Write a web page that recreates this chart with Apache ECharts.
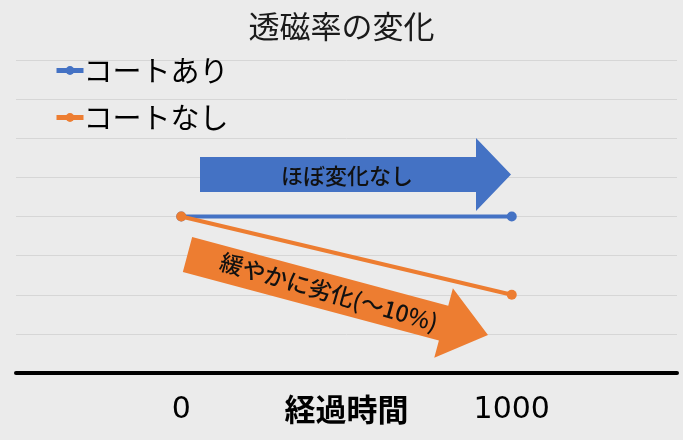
<!DOCTYPE html>
<html><head><meta charset="utf-8">
<script src="https://cdn.jsdelivr.net/npm/echarts@6/dist/echarts.min.js"></script>
<style>html,body{margin:0;padding:0;background:#ebebeb}#c{width:683px;height:440px}</style>
</head><body><div id="c"></div>
<script>
const categories = ['0', '1000'];
const coatOn = [100, 100];
const coatOff = [100, 90];
const seriesNames = ['コートあり', 'コートなし'];
const titleText = '透磁率の変化';
const xName = '経過時間';
const noteBlue = 'ほぼ変化なし';
const noteOrange = '緩やかに劣化(～10%)';

const FONT = '"Noto Sans CJK JP", "Noto Sans", sans-serif';
const NUMFONT = '"DejaVu Sans", "Noto Sans", sans-serif';
const chart = echarts.init(document.getElementById('c'));

function arrow(x0, y0, x1, y1, bodyW, headW, headL) {
  const dx = x1 - x0, dy = y1 - y0, L = Math.hypot(dx, dy);
  const ux = dx / L, uy = dy / L, nx = -uy, ny = ux;
  const bx = x1 - ux * headL, by = y1 - uy * headL;
  const p = (x, y, n) => [x + nx * n, y + ny * n];
  return [p(x0, y0, -bodyW / 2), p(bx, by, -bodyW / 2), p(bx, by, -headW / 2), [x1, y1],
          p(bx, by, headW / 2), p(bx, by, bodyW / 2), p(x0, y0, bodyW / 2)];
}

chart.setOption({
  backgroundColor: '#ebebeb',
  title: { text: titleText, left: 'center', top: 6,
    textStyle: { fontFamily: FONT, fontSize: 31, fontWeight: 'normal', color: '#1a1a1a' } },
  legend: { orient: 'vertical', left: 49, top: 51, itemGap: 18, itemWidth: 27, itemHeight: 11,
    lineStyle: { width: 5 },
    textStyle: { fontFamily: FONT, fontSize: 29, color: '#000', padding: [0, 0, 0, -5] } },
  grid: { left: 16, right: 6, top: 60, bottom: 67, outerBoundsMode: 'none', containLabel: false },
  xAxis: { type: 'category', data: categories, boundaryGap: true,
    name: xName, nameLocation: 'middle', nameGap: 21, nameMoveOverlap: false,
    nameTextStyle: { fontFamily: FONT, fontSize: 31, fontWeight: 'bold', color: '#000' },
    axisLine: { lineStyle: { color: '#000', width: 4 } },
    axisTick: { show: false },
    axisLabel: { fontFamily: NUMFONT, fontSize: 30, color: '#000', margin: 22 } },
  yAxis: { type: 'value', min: 80, max: 120, interval: 5,
    axisLine: { show: false }, axisTick: { show: false }, axisLabel: { show: false },
    splitLine: { lineStyle: { color: '#d6d6d6', width: 1 } } },
  series: [
    { name: seriesNames[0], type: 'line', data: coatOn, symbol: 'circle', symbolSize: 10,
      color: '#4472c4', lineStyle: { width: 4 }, z: 3 },
    { name: seriesNames[1], type: 'line', data: coatOff, symbol: 'circle', symbolSize: 10,
      color: '#ed7d31', lineStyle: { width: 4 }, z: 4 }
  ],
  graphic: [
    { type: 'polygon', shape: { points: arrow(200, 174.5, 511, 174.5, 35, 73, 35) },
      style: { fill: '#4472c4' }, z: 10 },
    { type: 'text', x: 347, y: 176, style: { text: noteBlue, font: '500 22px ' + FONT, fill: '#111', align: 'center', verticalAlign: 'middle' }, z: 11 },
    { type: 'polygon', shape: { points: arrow(187.5, 254.5, 488, 335, 36, 72, 46) },
      style: { fill: '#ed7d31' }, z: 10 },
    { type: 'text', x: 329, y: 292, rotation: -16 * Math.PI / 180,
      style: { text: noteOrange, font: '500 23px ' + FONT, fill: '#111', align: 'center', verticalAlign: 'middle' }, z: 11 }
  ]
});
</script></body></html>
